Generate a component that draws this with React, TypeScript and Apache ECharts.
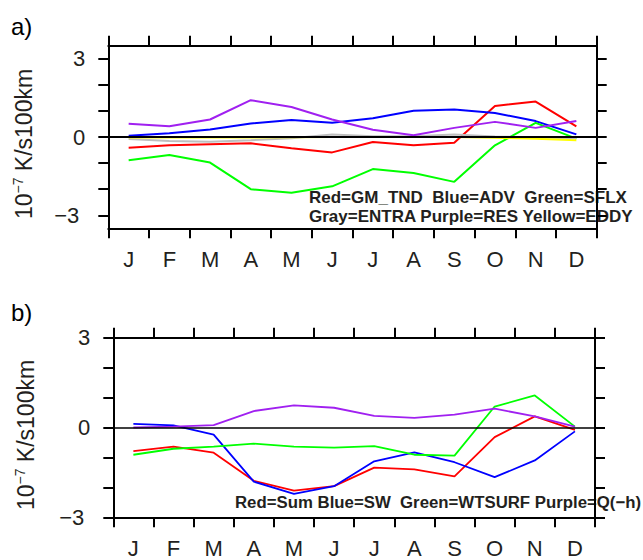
import React, { useEffect, useRef } from "react";
import * as echarts from "echarts";

const months = ["J", "F", "M", "A", "M", "J", "J", "A", "S", "O", "N", "D"];

// Panel a) (10^-7 K/s100km)
const redA = [-0.41, -0.32, -0.28, -0.24, -0.43, -0.59, -0.19, -0.32, -0.22, 1.19, 1.36, 0.41];
const blueA = [0.05, 0.14, 0.29, 0.52, 0.65, 0.55, 0.72, 1.01, 1.05, 0.92, 0.61, 0.1];
const greenA = [-0.89, -0.69, -0.98, -2.0, -2.14, -1.89, -1.23, -1.38, -1.72, -0.32, 0.54, -0.06];
const grayA = [-0.08, -0.15, -0.18, -0.12, -0.05, 0.1, 0.03, 0.03, 0.1, 0.02, -0.02, -0.05];
const purpleA = [0.51, 0.41, 0.67, 1.41, 1.15, 0.67, 0.28, 0.07, 0.35, 0.58, 0.35, 0.61];
const yellowA = [-0.02, -0.02, -0.02, -0.02, -0.01, 0.0, 0.0, 0.0, 0.0, -0.03, -0.07, -0.12];

// Panel b)
const redB = [-0.79, -0.64, -0.84, -1.78, -2.11, -1.96, -1.34, -1.4, -1.63, -0.32, 0.37, -0.08];
const blueB = [0.12, 0.07, -0.24, -1.81, -2.22, -1.96, -1.13, -0.83, -1.16, -1.66, -1.1, -0.13];
const greenB = [-0.91, -0.71, -0.64, -0.54, -0.64, -0.67, -0.62, -0.91, -0.94, 0.7, 1.07, 0.03];
const purpleB = [0.0, 0.03, 0.08, 0.55, 0.74, 0.66, 0.39, 0.32, 0.43, 0.63, 0.37, 0.03];

const yTicks = [-3, -2, -1, 0, 1, 2, 3];
const yLabels = [-3, 0, 3];

const legendA1 = "Red=GM_TND\u00a0\u00a0Blue=ADV\u00a0\u00a0Green=SFLX";
const legendA2 = "Gray=ENTRA Purple=RES Yellow=EDDY";
const legendB = "Red=Sum Blue=SW\u00a0\u00a0Green=WTSURF Purple=Q(\u2212h)";

const FONT = "'Liberation Sans', Arial, Helvetica, sans-serif";
const TXT = "#231f20";

const RED = "#ff0000";
const BLUE = "#0000ff";
const GREEN = "#00ff00";
const GRAY = "#bebebe";
const PURPLE = "#a020f0";
const YELLOW = "#ffff00";

export default function App() {
  const ref = useRef<HTMLDivElement>(null);

  useEffect(() => {
    if (!ref.current) return;
    const chart = echarts.init(ref.current, null, { renderer: "svg" });

    const xAxisBase = (gridIndex: number, position: "bottom" | "top") => ({
      type: "category",
      gridIndex,
      position,
      data: months,
      boundaryGap: true,
      axisLine: { show: true, onZero: false, lineStyle: { color: "#000", width: 2 } },
      axisTick: { show: true, inside: false, length: 10, lineStyle: { color: "#000", width: 2 } },
      axisLabel: {
        show: position === "bottom",
        margin: 20,
        fontSize: 22,
        color: TXT,
        fontFamily: FONT,
      },
      splitLine: { show: false },
    });

    const yAxisBase = (gridIndex: number, position: "left" | "right", lim: number) => ({
      type: "value",
      gridIndex,
      position,
      min: -lim,
      max: lim,
      axisLine: { show: true, onZero: false, lineStyle: { color: "#000", width: 2 } },
      axisTick: {
        show: true,
        inside: false,
        length: 10,
        customValues: yTicks,
        lineStyle: { color: "#000", width: 2 },
      },
      axisLabel: {
        show: position === "left",
        customValues: yLabels,
        margin: 23,
        fontSize: 22,
        color: TXT,
        fontFamily: FONT,
        formatter: (v: number) => (v < 0 ? "{n|\u2212" + Math.abs(v) + "}" : String(v)),
        rich: { n: { fontSize: 22, color: TXT, fontFamily: FONT, padding: [0, 6, 0, 0] } },
      },
      splitLine: { show: false },
    });

    const line = (
      name: string,
      data: number[],
      color: string,
      axisIdx: number,
      width: number,
      zeroWidth?: number
    ) => {
      const s: any = {
        name,
        type: "line",
        xAxisIndex: axisIdx,
        yAxisIndex: axisIdx,
        data,
        symbol: "none",
        lineStyle: { color, width },
        itemStyle: { color },
        silent: true,
      };
      if (zeroWidth) {
        s.markLine = {
          silent: true,
          symbol: "none",
          label: { show: false },
          lineStyle: { color: "#000", width: zeroWidth, type: "solid" },
          data: [{ yAxis: 0 }],
        };
      }
      return s;
    };

    const titleRich = {
      sup: { fontSize: 14, fontFamily: FONT, fill: TXT, padding: [0, 0, 12, 0] },
    };

    const legendStyle = (text: string, size: number) => ({
      text,
      fontSize: size,
      lineHeight: 19,
      fontWeight: "bold",
      fontFamily: FONT,
      fill: TXT,
      align: "left",
      verticalAlign: "middle",
    });

    chart.setOption({
      animation: false,
      textStyle: { fontFamily: FONT },
      grid: [
        { left: 108.3, top: 45.7, right: 46.3, height: 182.6 },
        { left: 113.3, top: 337.7, right: 48, height: 179.6 },
      ],
      xAxis: [
        xAxisBase(0, "bottom"),
        xAxisBase(1, "bottom"),
        xAxisBase(0, "top"),
        xAxisBase(1, "top"),
      ],
      yAxis: [
        yAxisBase(0, "left", 3.5),
        yAxisBase(1, "left", 3),
        yAxisBase(0, "right", 3.5),
        yAxisBase(1, "right", 3),
      ],
      series: [
        line("GM_TND", redA, RED, 0, 2),
        line("ADV", blueA, BLUE, 0, 2),
        line("SFLX", greenA, GREEN, 0, 2),
        line("ENTRA", grayA, GRAY, 0, 2),
        line("RES", purpleA, PURPLE, 0, 2),
        line("EDDY", yellowA, YELLOW, 0, 2, 2),
        line("Sum", redB, RED, 1, 1.8),
        line("SW", blueB, BLUE, 1, 1.8),
        line("WTSURF", greenB, GREEN, 1, 1.8),
        line("Q(-h)", purpleB, PURPLE, 1, 1.8, 1.5),
      ],
      graphic: [
        {
          type: "text",
          left: 11,
          top: 14,
          style: { text: "a)", fontSize: 24, fontFamily: FONT, fill: "#000" },
        },
        {
          type: "text",
          left: 11,
          top: 300,
          style: { text: "b)", fontSize: 24, fontFamily: FONT, fill: "#000" },
        },
        {
          type: "text",
          x: 23.5,
          y: 144,
          rotation: Math.PI / 2,
          style: {
            text: "10{sup|\u22127} K/s100km",
            fontSize: 23,
            fontFamily: FONT,
            fill: TXT,
            align: "center",
            verticalAlign: "middle",
            rich: titleRich,
          },
        },
        {
          type: "text",
          x: 26,
          y: 435,
          rotation: Math.PI / 2,
          style: {
            text: "10{sup|\u22127} K/s100km",
            fontSize: 23,
            fontFamily: FONT,
            fill: TXT,
            align: "center",
            verticalAlign: "middle",
            rich: titleRich,
          },
        },
        {
          type: "text",
          x: 309,
          y: 207.25,
          z: 0,
          style: legendStyle(legendA1 + "\n" + legendA2, 17),
        },
        { type: "text", x: 235, y: 502, z: 0, style: legendStyle(legendB, 16.8) },
      ],
    });

    return () => chart.dispose();
  }, []);

  return (
    <div
      ref={ref}
      style={{ position: "absolute", left: 0, top: 0, width: 643, height: 560 }}
    />
  );
}
